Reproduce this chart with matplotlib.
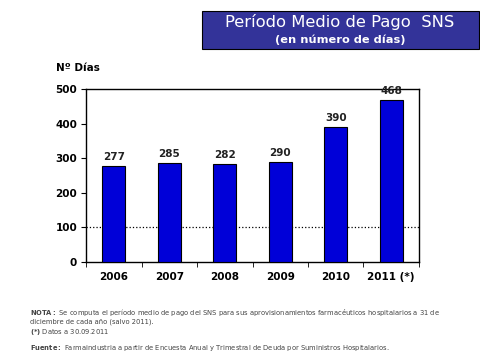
import numpy as np
import matplotlib.pyplot as plt
from matplotlib.patches import Rectangle

# data
years = ['2006', '2007', '2008', '2009', '2010', '2011 (*)']
dias = [277, 285, 282, 290, 390, 468]

plt.rcParams['mathtext.fontset'] = 'dejavusans'

fig = plt.figure(figsize=(4.81, 3.59), dpi=100)
ax = fig.add_axes([0.179, 0.27, 0.692, 0.482])

x = np.arange(len(years))
ax.bar(x, dias, width=0.42, color='#0000d8', edgecolor='black', linewidth=0.8, zorder=3)
for xi, v in zip(x, dias):
    ax.text(xi, v + 12, str(v), ha='center', va='bottom', fontsize=7.5,
            fontweight='bold', color='#222222')

ax.axhline(100, color='black', linestyle=':', linewidth=0.9, zorder=1)

ax.set_xlim(-0.5, len(years) - 0.5)
ax.set_ylim(0, 500)
ax.set_yticks([0, 100, 200, 300, 400, 500])
ax.set_xticks(x)
ax.set_xticklabels(years, fontsize=7.5, fontweight='bold')
ax.tick_params(axis='x', length=0, pad=7)
ax.set_xticks(np.arange(len(years) + 1) - 0.5, minor=True)
ax.tick_params(axis='x', which='minor', length=3.5, direction='out')
ax.tick_params(axis='y', labelsize=7.5, length=3.5, direction='out', pad=3)
for lab in ax.get_yticklabels():
    lab.set_fontweight('bold')
for s in ax.spines.values():
    s.set_linewidth(1.0)

fig.text(56 / 481, 1 - 68 / 359, 'Nº Días', fontsize=7.5, fontweight='bold',
         ha='left', va='center')

# title box
fig.patches.append(Rectangle((202 / 481, 1 - 49 / 359), 277 / 481, 38 / 359,
                             transform=fig.transFigure, facecolor='#333399',
                             edgecolor='black', linewidth=0.8))
fig.text(340 / 481, 1 - 22 / 359, 'Período Medio de Pago  SNS', color='white',
         fontsize=11.8, ha='center', va='center')
fig.text(340 / 481, 1 - 40 / 359, '(en número de días)', color='white',
         fontsize=8.2, fontweight='bold', ha='center', va='center')

# notes
fs = 4.9
fig.text(30 / 481, 1 - 312 / 359, r'$\bf{NOTA:}$ Se computa el período medio de pago del SNS para sus aprovisionamientos farmacéuticos hospitalarios a 31 de',
         fontsize=fs, color='#444444', ha='left', va='center')
fig.text(30 / 481, 1 - 322 / 359, 'diciembre de cada año (salvo 2011).',
         fontsize=fs, color='#444444', ha='left', va='center')
fig.text(30 / 481, 1 - 332 / 359, r'$\bf{(*)}$ Datos a 30.09.2011',
         fontsize=fs, color='#444444', ha='left', va='center')
fig.text(30 / 481, 1 - 348 / 359, r'$\bf{Fuente:}$ Farmaindustria a partir de Encuesta Anual y Trimestral de Deuda por Suministros Hospitalarios.',
         fontsize=fs, color='#444444', ha='left', va='center')

fig.savefig('out.png', dpi=100)
